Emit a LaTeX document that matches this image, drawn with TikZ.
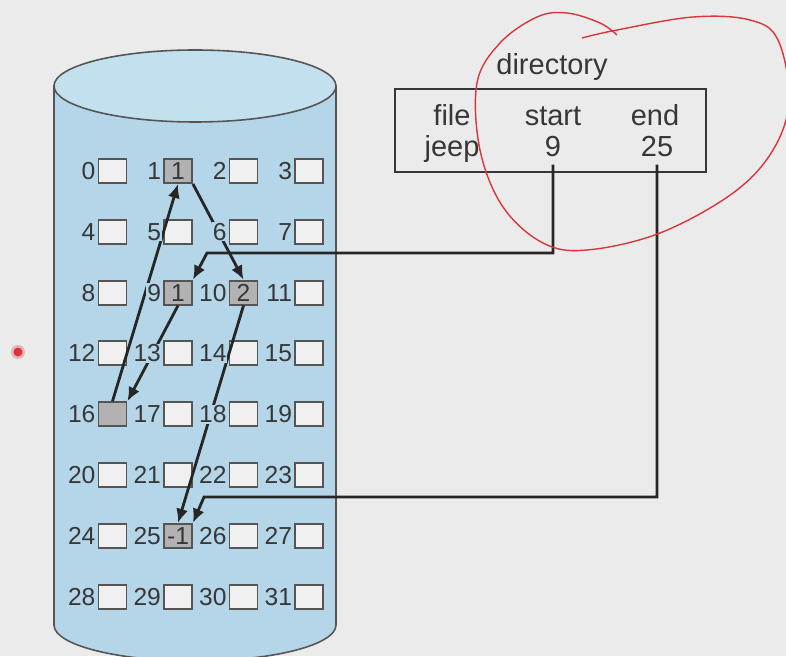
\documentclass[tikz,border=0pt]{standalone}
\usepackage{fontspec}
\setmainfont{Liberation Sans}
\usepackage{xcolor}
\usepackage{tikz}
\usetikzlibrary{positioning,arrows.meta,calc}

\definecolor{fond}{RGB}{235,235,235}
\definecolor{disque}{RGB}{180,214,232}
\definecolor{disquehaut}{RGB}{194,224,238}
\definecolor{trait}{RGB}{55,55,55}
\definecolor{bordbloc}{RGB}{85,85,85}
\definecolor{blocvide}{RGB}{240,240,240}
\definecolor{blocpris}{RGB}{178,178,178}
\definecolor{stylo}{RGB}{215,55,60}

\begin{document}
\begin{tikzpicture}[
  x=0.02cm, y=0.02cm,
  bloc/.style={
    draw=bordbloc, line width=1.1pt, fill=blocvide,
    minimum width=0.56cm, minimum height=0.48cm, inner sep=0pt,
    font=\fontsize{14}{16}\selectfont, text=trait
  },
  pris/.style={bloc, fill=blocpris},
  num/.style={font=\fontsize{14}{16}\selectfont, text=trait, fill=disque, inner sep=0.5pt},
  txt/.style={font=\fontsize{16.5}{18}\selectfont, text=trait, anchor=base, inner sep=4pt},
  fl/.style={-{Latex[length=8pt,width=7pt]}, line width=1.6pt, draw=black!85}
]
  \useasboundingbox (0,0) rectangle (786,656);
  \clip (0,0) rectangle (786,656);
  \fill[fond] (0,0) rectangle (786,656);

  % --- Disque ---
  \fill[disque] (54,570) -- (54,31)
    arc[start angle=180, end angle=360, x radius=141, y radius=36] -- (336,570) -- cycle;
  \draw[bordbloc, line width=0.9pt] (54,570) -- (54,31)
    arc[start angle=180, end angle=360, x radius=141, y radius=36] -- (336,570);
  \draw[bordbloc, line width=0.9pt, fill=disquehaut] (195,570) ellipse[x radius=141, y radius=36];

  % --- Blocs ---
  \foreach \r in {0,...,7}
    \foreach \c in {0,...,3} {
      \pgfmathtruncatemacro{\n}{4*\r+\c}
      \node[bloc] (b\n) at ({112.5+65.5*\c}, {485-60.8*\r}) {};
    }
  \node[pris] (u1)  at (b1)  {1};
  \node[pris] (u9)  at (b9)  {1};
  \node[pris] (u10) at (b10) {2};
  \node[pris] (u16) at (b16) {};
  \node[pris] (u25) at (b25) {-1};

  % --- Répertoire ---
  \node[draw=trait, line width=1.4pt, minimum width=6.22cm, minimum height=1.66cm]
    (dir) at (550.5,525.5) {};
  \node[txt] (titre)  at (552,581) {directory};
  \node[txt] (hfile)  at (452,530) {file};
  \node[txt] (hstart) at (553,530) {start};
  \node[txt] (hend)   at (655,530) {end};
  \node[txt] (vfile)  at (452,499) {jeep};
  \node[txt] (vstart) at (553,499) {9};
  \node[txt] (vend)   at (657,499) {25};

  % --- Chaînage ---
  \coordinate (k9)  at (207,403);
  \coordinate (k25) at (204,159);
  \draw[fl] (vstart.south) |- (k9) -- (u9.north east);
  \draw[fl] (vend.south) |- (k25) -- (u25.north east);
  \draw[fl] (u9.south) -- (u16.north east);
  \draw[fl] (u16.north) -- (u1.south);
  \draw[fl] (u1.south east) -- (u10.north);
  \draw[fl] (u10.south) -- (u25.north);

  % --- Numéros (masquent les flèches) ---
  \foreach \n in {0,...,31}
    \node[num, left=0.5pt of b\n] (l\n) {\n};

  % --- Annotation au stylo ---
  \draw[stylo, line width=0.8pt] plot[smooth, tension=0.6] coordinates {
    (582,618) (617,626) (693,639) (750,636) (778,616) (789,556) (773,506)
    (733,463) (660,423) (587,406) (543,413) (503,449) (480,506) (477,573)
    (500,613) (537,639) (567,643) (600,633) (617,621)};
  \fill[stylo, opacity=0.3] (18,304) circle[radius=7];
  \fill[stylo] (18,304) circle[radius=4.5];
\end{tikzpicture}
\end{document}
